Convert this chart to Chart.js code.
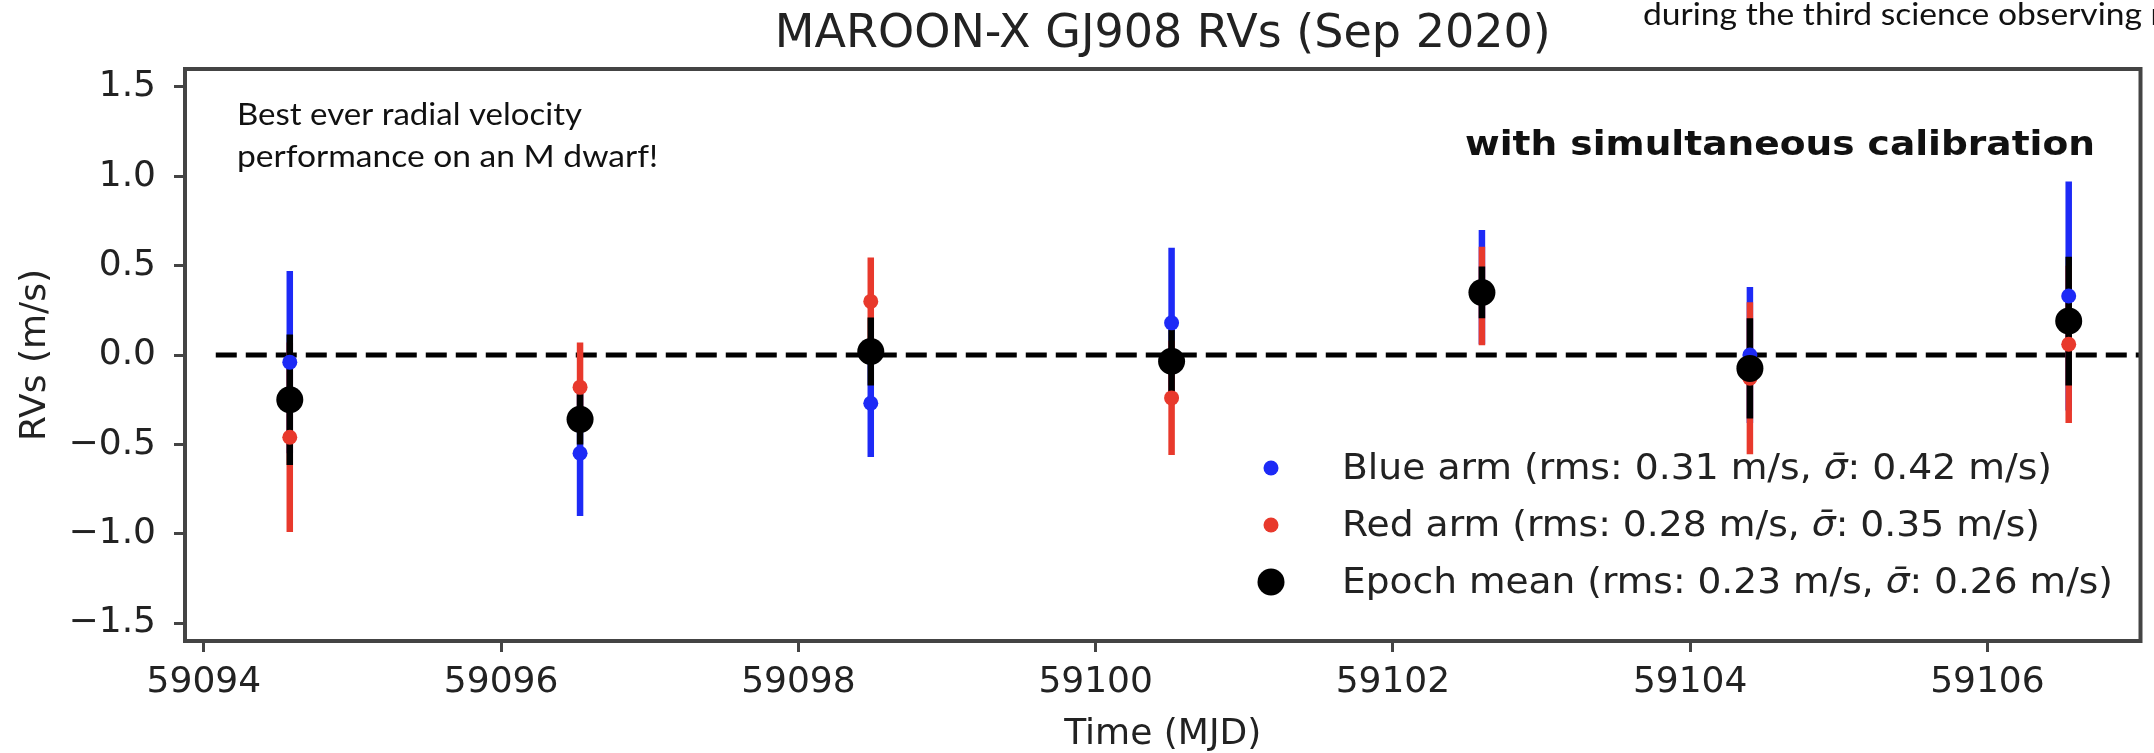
<!DOCTYPE html>
<html>
<head>
<meta charset="utf-8">
<title>MAROON-X GJ908 RVs (Sep 2020)</title>
<script src="https://cdn.jsdelivr.net/npm/chart.js@4.4.1/dist/chart.umd.min.js"></script>
<style>
  html, body { margin: 0; padding: 0; background: #fff; overflow: hidden; }
  #wrap { position: relative; width: 2154px; height: 753px; }
</style>
</head>
<body>
<div id="wrap"><canvas id="rv-chart" width="2154" height="753"></canvas></div>
<script>
/* ── GJ908 RVs — one value per observing night (MJD) ── */
const epochs   = [59094.578, 59096.531, 59098.487, 59100.511, 59102.599, 59104.402, 59106.547];
const blueRV   = [-0.04, -0.55, -0.27, 0.18, 0.38, 0.00, 0.33];
const blueErr  = [0.51, 0.35, 0.30, 0.42, 0.32, 0.38, 0.64];
const redRV    = [-0.46, -0.18, 0.30, -0.24, 0.33, -0.13, 0.06];
const redErr   = [0.53, 0.25, 0.245, 0.32, 0.275, 0.425, 0.44];
const meanRV   = [-0.25, -0.36, 0.02, -0.035, 0.35, -0.075, 0.19];
const meanErr  = [0.365, 0.14, 0.19, 0.175, 0.145, 0.28, 0.36];
const zeroLineX = [59094.08, 59107.1];

const xTicks = [59094, 59096, 59098, 59100, 59102, 59104, 59106];
const yTicks = [-1.5, -1.0, -0.5, 0.0, 0.5, 1.0, 1.5];

const SIG = '\u03c3\u0304';
const legendLabels = [
  'Blue arm (rms: 0.31 m/s, ' + SIG + ': 0.42 m/s)',
  'Red arm (rms: 0.28 m/s, ' + SIG + ': 0.35 m/s)',
  'Epoch mean (rms: 0.23 m/s, ' + SIG + ': 0.26 m/s)'
];
const titleText = 'MAROON-X GJ908 RVs (Sep 2020)';
const noteLines = ['Best ever radial velocity', 'performance on an M dwarf!'];
const calibText = 'with simultaneous calibration';
const topNote   = 'during the third science observing r';

const BLUE = '#1d2af6', RED = '#e8392c', INK = '#222', FRAME = '#444';
const DJ = '"DejaVu Sans", sans-serif';

const pts = (ys) => ys.map((v, i) => ({ x: epochs[i], y: v }));

// error bars go down right before the first marker series, so they sit over the dashed zero line
const errorBars = {
  id: 'errorBars',
  beforeDatasetDraw(chart, args) {
    if (chart.data.datasets[args.index].label !== 'Blue arm') return;
    const { ctx, chartArea: a, scales: { x, y } } = chart;
    ctx.save();
    ctx.beginPath(); ctx.rect(a.left, a.top, a.width, a.height); ctx.clip();
    ctx.lineWidth = 6.5; ctx.lineCap = 'butt';
    [[blueRV, blueErr, BLUE], [redRV, redErr, RED], [meanRV, meanErr, '#000']].forEach(([vals, errs, col]) => {
      ctx.strokeStyle = col;
      vals.forEach((v, i) => {
        const px = x.getPixelForValue(epochs[i]);
        ctx.beginPath();
        ctx.moveTo(px, y.getPixelForValue(v - errs[i]));
        ctx.lineTo(px, y.getPixelForValue(v + errs[i]));
        ctx.stroke();
      });
    });
    ctx.restore();
  }
};

// slide text boxes are wider than the font's natural width: squeeze/stretch to the box width
function fitText(ctx, str, x, y, width, measured) {
  const sx = width / ctx.measureText(measured || str).width;
  ctx.save();
  ctx.translate(x, y); ctx.scale(sx, 1);
  ctx.fillText(str, 0, 0);
  ctx.restore();
}

// legend label with an italic sigma-bar in the middle
function fillMixed(ctx, str, x, y, size, width) {
  const [a, b] = str.split(SIG);
  const up = `${size}px ${DJ}`, it = `italic ${size}px ${DJ}`;
  ctx.font = up; const wa = ctx.measureText(a).width, wb = ctx.measureText(b).width;
  ctx.font = it; const ws = ctx.measureText(SIG).width;
  ctx.save();
  ctx.translate(x, y); ctx.scale(width / (wa + ws + wb), 1);
  ctx.font = up; ctx.fillText(a, 0, 0);
  ctx.font = it; ctx.fillText(SIG, wa, 0);
  ctx.font = up; ctx.fillText(b, wa + ws, 0);
  ctx.restore();
}

// frame, title, legend and the slide notes
const decorations = {
  id: 'decorations',
  afterDraw(chart) {
    const { ctx, chartArea: a } = chart;
    ctx.save();
    ctx.strokeStyle = FRAME; ctx.lineWidth = 4;
    ctx.strokeRect(a.left, a.top, a.width, a.height);

    ctx.fillStyle = INK; ctx.textBaseline = 'alphabetic';
    ctx.textAlign = 'center';
    ctx.font = `46px ${DJ}`;
    ctx.fillText(titleText, (a.left + a.right) / 2, 47);

    ctx.textAlign = 'left';
    ctx.fillStyle = '#111';
    ctx.font = '30px Lato, sans-serif';
    fitText(ctx, noteLines[0], 237, 125, 345);
    fitText(ctx, noteLines[1], 237, 167, 421);
    fitText(ctx, topNote, 1643, 25, 499, 'during the third science observing');
    ctx.font = `bold 33px ${DJ}`;
    fitText(ctx, calibText, 1465, 155, 630);

    const marks = [[BLUE, 7.5], [RED, 7.5], ['#000', 13.5]];
    const rowWidths = [710, 698, 771];
    legendLabels.forEach((lab, i) => {
      const cy = 468 + i * 57;
      ctx.fillStyle = marks[i][0];
      ctx.beginPath(); ctx.arc(1271, cy, marks[i][1], 0, Math.PI * 2); ctx.fill();
      ctx.fillStyle = INK;
      fillMixed(ctx, lab, 1342, cy + 11, 35, rowWidths[i]);
    });
    ctx.restore();
  }
};

new Chart(document.getElementById('rv-chart'), {
  type: 'scatter',
  data: {
    datasets: [
      { label: 'Epoch mean', data: pts(meanRV), pointRadius: 13.5, pointBackgroundColor: '#000', pointBorderWidth: 0 },
      { label: 'Red arm', data: pts(redRV), pointRadius: 7.5, pointBackgroundColor: RED, pointBorderWidth: 0 },
      { label: 'Blue arm', data: pts(blueRV), pointRadius: 7.5, pointBackgroundColor: BLUE, pointBorderWidth: 0 },
      { label: 'zero', data: zeroLineX.map(v => ({ x: v, y: 0 })), showLine: true, pointRadius: 0,
        borderColor: '#000', borderWidth: 5, borderDash: [21, 9], clip: 0 }
    ]
  },
  options: {
    responsive: false,
    animation: false,
    events: [],
    layout: { padding: { top: 69, right: 6, left: 0, bottom: 0 } },
    plugins: { legend: { display: false }, tooltip: { enabled: false }, title: { display: false } },
    scales: {
      x: {
        type: 'linear', min: 59093.873, max: 59107.03,
        afterFit: s => { s.height = 112; },
        afterBuildTicks: s => { s.ticks = xTicks.map(v => ({ value: v })); },
        grid: { drawOnChartArea: false, tickLength: 11, tickWidth: 3, tickColor: FRAME },
        border: { display: false },
        ticks: { color: INK, font: { family: 'DejaVu Sans', size: 36 }, padding: 9, maxRotation: 0,
                 callback: v => String(v) },
        title: { display: true, text: 'Time (MJD)', color: INK,
                 font: { family: 'DejaVu Sans', size: 36, lineHeight: 1.0 }, padding: { top: 0, bottom: 0 } }
      },
      y: {
        min: -1.6, max: 1.6,
        afterFit: s => { s.width = 185; },
        afterBuildTicks: s => { s.ticks = yTicks.map(v => ({ value: v })); },
        grid: { drawOnChartArea: false, tickLength: 11, tickWidth: 3, tickColor: FRAME },
        border: { display: false },
        ticks: { color: INK, font: { family: 'DejaVu Sans', size: 36 }, padding: 18,
                 callback: v => v.toFixed(1).replace('-', '\u2212') },
        title: { display: true, text: 'RVs (m/s)', color: INK,
                 font: { family: 'DejaVu Sans', size: 36 }, padding: { top: 14, bottom: 0 } }
      }
    }
  },
  plugins: [errorBars, decorations]
});
</script>
</body>
</html>
